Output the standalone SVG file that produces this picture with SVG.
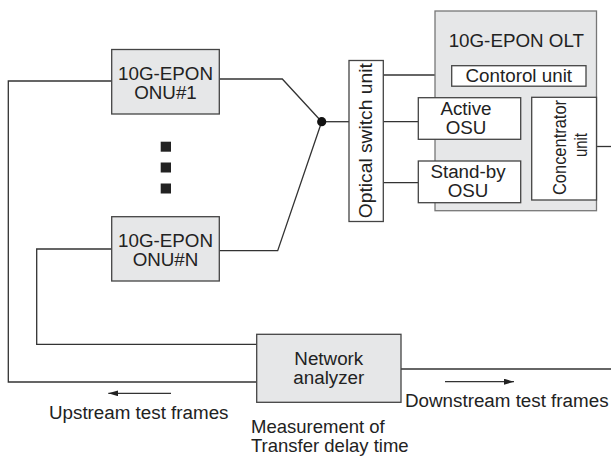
<svg xmlns="http://www.w3.org/2000/svg" width="611" height="457" viewBox="0 0 611 457">
<defs>
<style>
.box{fill:#e6e7e8;stroke:#444;stroke-width:1.3}
.wbox{fill:#fff;stroke:#444;stroke-width:1.3}
.olt{fill:#e6e7e8;stroke:#777;stroke-width:1.3}
.ln{fill:none;stroke:#333;stroke-width:1.3}
.t{font-family:"Liberation Sans",Arial,sans-serif;font-size:18.8px;fill:#222}
.m{text-anchor:middle}
</style>
<marker id="ah" viewBox="0 0 10 6" refX="10" refY="3" markerWidth="10" markerHeight="6" markerUnits="userSpaceOnUse" orient="auto">
<path d="M0,0 L10,3 L0,6 Z" fill="#222"/>
</marker>
</defs>
<rect width="611" height="457" fill="#fff"/>
<g id="connectors">
<polyline class="ln" points="111.7,81 8.3,81 8.3,382 256.7,382"/>
<polyline class="ln" points="111.7,249 36.7,249 36.7,344.3 256.7,344.3"/>
<polyline class="ln" points="219.3,79 282.3,79 321.7,121.7"/>
<polyline class="ln" points="219.3,250.7 277.7,250.7 321.7,121.7"/>
<line class="ln" x1="321.7" y1="121.7" x2="349" y2="121.7"/>
<line class="ln" x1="383.3" y1="75" x2="451.7" y2="75"/>
<line class="ln" x1="383.3" y1="121.7" x2="418.3" y2="121.7"/>
<line class="ln" x1="383.3" y1="182.7" x2="418.3" y2="182.7"/>
<line class="ln" x1="596.5" y1="146.5" x2="611" y2="146.5"/>
<line class="ln" x1="401" y1="369" x2="611" y2="369"/>
<circle cx="321.7" cy="121.7" r="4.6" fill="#111"/>
<line class="ln" x1="171" y1="393.3" x2="108.3" y2="393.3" marker-end="url(#ah)"/>
<line class="ln" x1="445" y1="381.7" x2="514" y2="381.7" marker-end="url(#ah)"/>
</g>
<g id="onu1">
<rect class="box" x="111.7" y="49.5" width="107.6" height="64.5"/>
<text class="t m" x="165.5" y="80">10G-EPON</text>
<text class="t m" x="165.5" y="99">ONU#1</text>
</g>
<g id="dots" fill="#222">
<rect x="160.7" y="141.7" width="10.3" height="10"/>
<rect x="160.7" y="162.5" width="10.3" height="10"/>
<rect x="160.7" y="183.5" width="10.3" height="10"/>
</g>
<g id="onuN">
<rect class="box" x="111.7" y="216.7" width="107.6" height="64.3"/>
<text class="t m" x="165.5" y="246.7">10G-EPON</text>
<text class="t m" x="165.5" y="265.7">ONU#N</text>
</g>
<g id="olt">
<rect class="olt" x="435" y="11" width="161.5" height="199.7"/>
<text class="t m" x="516.3" y="46.7">10G-EPON OLT</text>
</g>
<g id="switch">
<rect class="wbox" x="349" y="60.5" width="34.3" height="161"/>
<text class="t m" transform="translate(372,140.7) rotate(-90)" x="0" y="0" textLength="155" lengthAdjust="spacingAndGlyphs">Optical switch unit</text>
</g>
<g id="control">
<rect class="wbox" x="451.7" y="65.7" width="134.3" height="20.5"/>
<text class="t m" x="518.8" y="82.3">Contorol unit</text>
</g>
<g id="active">
<rect class="wbox" x="418.3" y="97.7" width="102.4" height="41.6"/>
<text class="t m" x="466" y="114.6">Active</text>
<text class="t m" x="466" y="133.6">OSU</text>
</g>
<g id="standby">
<rect class="wbox" x="418.3" y="161" width="102.4" height="41.7"/>
<text class="t m" x="468" y="178">Stand-by</text>
<text class="t m" x="468" y="197">OSU</text>
</g>
<g id="concentrator">
<rect class="wbox" x="531.7" y="97.3" width="64.8" height="102.7"/>
<text class="t m" transform="translate(566,147.5) rotate(-90)" textLength="95" lengthAdjust="spacingAndGlyphs">Concentrator</text>
<text class="t m" transform="translate(587,145) rotate(-90)" textLength="24" lengthAdjust="spacingAndGlyphs">unit</text>
</g>
<g id="analyzer">
<rect class="box" x="256.7" y="334.3" width="144.3" height="68"/>
<text class="t m" x="328.8" y="365">Network</text>
<text class="t m" x="328.8" y="384">analyzer</text>
</g>
<g id="labels">
<text class="t" x="49" y="419">Upstream test frames</text>
<text class="t" x="405" y="406.7">Downstream test frames</text>
<text class="t" x="251" y="432.8" style="font-size:18.5px">Measurement of</text>
<text class="t" x="251" y="452.4" style="font-size:18.5px">Transfer delay time</text>
</g>
</svg>
